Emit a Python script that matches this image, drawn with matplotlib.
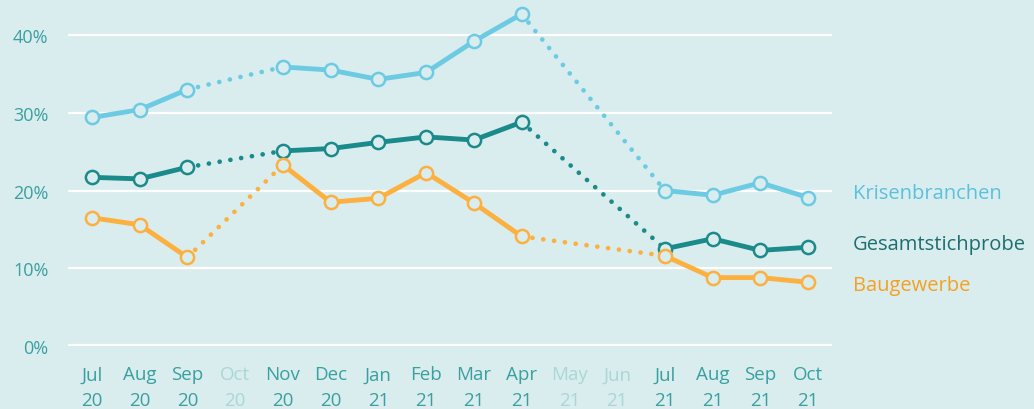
import numpy as np
import matplotlib.pyplot as plt
import matplotlib.transforms as mtransforms

months = ["Jul\n20", "Aug\n20", "Sep\n20", "Oct\n20", "Nov\n20", "Dec\n20",
          "Jan\n21", "Feb\n21", "Mar\n21", "Apr\n21", "May\n21", "Jun\n21",
          "Jul\n21", "Aug\n21", "Sep\n21", "Oct\n21"]

krisen = [29.4, 30.4, 33.0, None, 35.9, 35.5, 34.3, 35.2, 39.2, 42.7,
          None, None, 20.0, 19.4, 21.0, 19.1]
gesamt = [21.7, 21.5, 23.0, None, 25.1, 25.4, 26.2, 26.9, 26.5, 28.8,
          None, None, 12.5, 13.8, 12.3, 12.7]
bau = [16.5, 15.6, 11.4, None, 23.3, 18.5, 19.0, 22.3, 18.4, 14.1,
       None, None, 11.6, 8.8, 8.8, 8.2]

bg = "#daedee"
c_krisen = "#6ccbe3"
c_gesamt = "#1a8a8a"
c_bau = "#fbb040"
tick_col = "#3a9fa0"
faded_col = "#a9d6d7"

plt.rcParams["font.family"] = ["Open Sans", "DejaVu Sans"]

fig = plt.figure(figsize=(10.34, 4.1), dpi=100, facecolor=bg)
ax = fig.add_axes([68 / 1034, 63 / 410, (832 - 68) / 1034, 342 / 410])
ax.set_facecolor(bg)

x = np.arange(len(months))


def draw(vals, color):
    y = np.array([np.nan if v is None else v for v in vals])
    ok = ~np.isnan(y)
    # dotted bridges across missing months
    idx = np.where(ok)[0]
    for a, b in zip(idx[:-1], idx[1:]):
        if b - a > 1:
            ax.plot([a, b], [y[a], y[b]], color=color, lw=3.4,
                    linestyle=(0, (0.01, 2.3)), dash_capstyle="round",
                    zorder=3)
    ax.plot(x, y, color=color, lw=3.5, solid_capstyle="round", zorder=4)
    ax.plot(x[ok], y[ok], linestyle="none", marker="o", markersize=9.5,
            markerfacecolor=bg, markeredgecolor=color, markeredgewidth=1.8,
            zorder=5, clip_on=False)


draw(krisen, c_krisen)
draw(gesamt, c_gesamt)
draw(bau, c_bau)

for yv in [10, 20, 30, 40]:
    ax.axhline(yv, color="white", lw=1.6, zorder=1)
ax.axhline(0, color="white", lw=3, zorder=1)

ax.set_xlim(-0.5, len(months) - 0.5)
ax.set_ylim(0, 44)
ax.set_yticks([0, 10, 20, 30, 40])
ax.set_yticklabels(["0%", "10%", "20%", "30%", "40%"])
ax.set_xticks(x)
ax.set_xticklabels(months, linespacing=1.55)
ax.tick_params(axis="y", length=0, pad=14, labelsize=13, labelcolor=tick_col)
ax.tick_params(axis="x", length=0, pad=14, labelsize=13.5, labelcolor=tick_col)
for i, lab in enumerate(ax.get_xticklabels()):
    if krisen[i] is None:
        lab.set_color(faded_col)
for s in ax.spines.values():
    s.set_visible(False)

trans = mtransforms.blended_transform_factory(ax.transAxes, ax.transData)
ax.text(1.027, 19.7, "Krisenbranchen", color="#5bc0de", fontsize=14.5,
        transform=trans, va="center", ha="left")
ax.text(1.027, 13.1, "Gesamtstichprobe", color="#1d6e70", fontsize=14.5,
        transform=trans, va="center", ha="left")
ax.text(1.027, 7.9, "Baugewerbe", color="#f5a020", fontsize=14.5,
        transform=trans, va="center", ha="left")

fig.savefig("out.png", dpi=100, facecolor=bg)
